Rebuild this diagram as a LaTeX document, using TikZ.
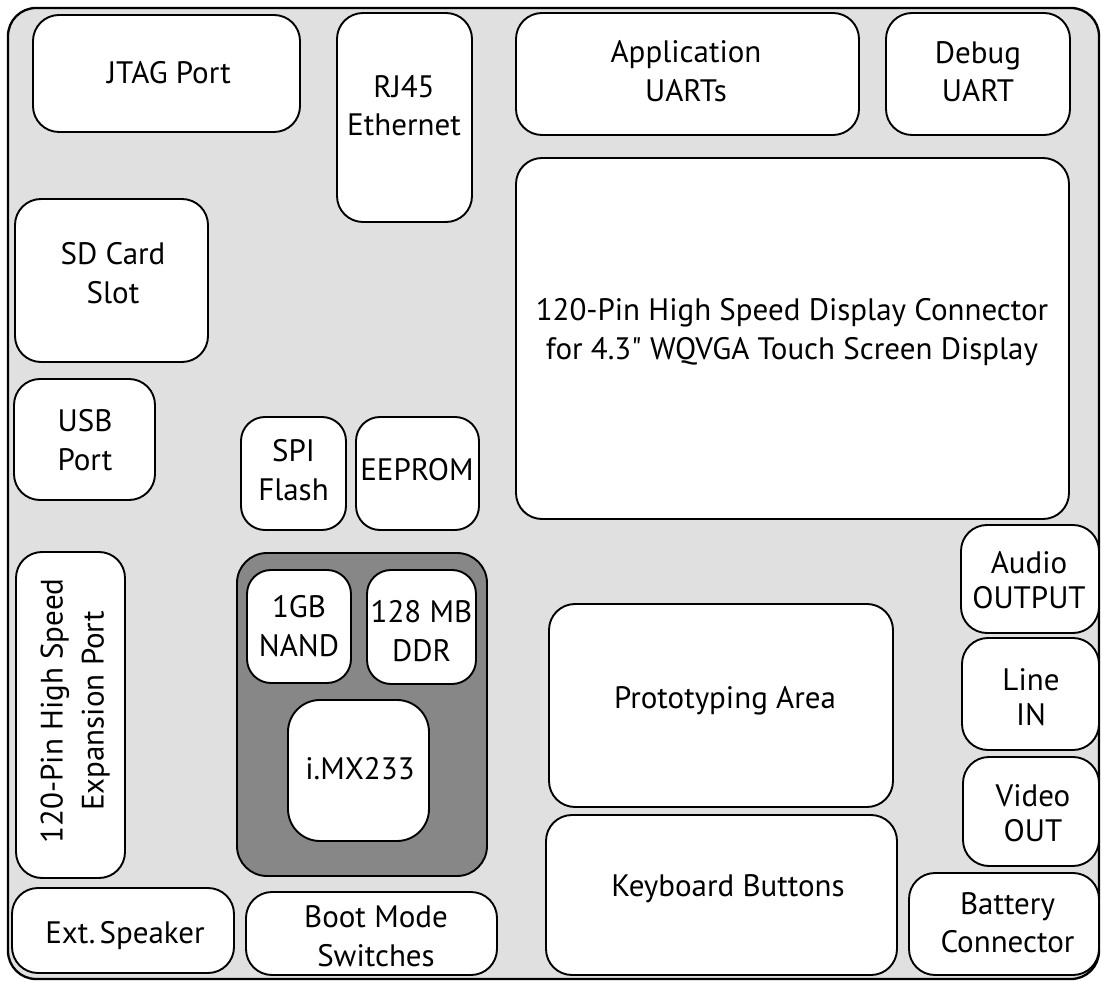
\documentclass[tikz,border=0pt]{standalone}
\usepackage{fontspec}
\setmainfont{PT Sans}
\newfontfamily\rawqfont{PT Sans}[Ligatures=TeXOff]
\definecolor{boardgray}{RGB}{224,224,224}
\definecolor{chipgray}{RGB}{135,135,135}
\newcommand{\rbox}[6][]{%
  \node[box,#1,minimum width={(#5-#3)*1pt},minimum height={(#6-#4)*1pt}] (#2) at ({(#3+#5)/2},{(#4+#6)/2}) {};}
\begin{document}
\begin{tikzpicture}[x=1pt,y=-1pt,
  box/.style={draw=black,line width=1.9pt,fill=white,rounded corners=26pt,inner sep=0pt,outer sep=0pt},
  lbl/.style={align=center,font=\fontsize{31}{38.5}\selectfont,inner sep=0pt,yshift=-3.3pt},
  lbltight/.style={align=center,font=\fontsize{31}{35}\selectfont,inner sep=0pt,yshift=-4pt},
  rlbl/.style={align=center,font=\fontsize{31}{41}\selectfont,inner sep=0pt,rotate=90}]
\useasboundingbox (0,0) rectangle (1101,981);
\rbox[fill=boardgray,line width=2.3pt,rounded corners=28pt]{board}{8}{8}{1099}{979}
% top row
\rbox{jtag}{33}{15}{300}{132}
\node[lbl] (jtagT) at (169,73) {\strut JTAG Port};
\rbox{rj}{337}{13}{472}{222}
\node[lbl] (rjT) at (404,105.5) {\strut RJ45\\\strut Ethernet};
\rbox{app}{516}{13}{859}{135}
\node[lbl] (appT) at (686,71) {\strut Application\\\strut UARTs};
\rbox{dbg}{886}{13}{1070}{135}
\node[lbl] (dbgT) at (978,71.5) {\strut Debug\\\strut UART};
% display
\rbox{disp}{516}{158}{1069}{519}
\node[lbl] (dispT) at (792,329) {\strut 120-Pin High Speed Display Connector\\\strut for 4.3{\rawqfont"} WQVGA Touch Screen Display};
% left column
\rbox{sd}{15}{199}{208}{362}
\node[lbl] (sdT) at (113,273) {\strut SD Card\\\strut Slot};
\rbox{usb}{14}{379}{155}{500}
\node[lbl] (usbT) at (85,440) {\strut USB\\\strut Port};
\rbox[rounded corners=24pt]{spi}{241}{417}{346}{530}
\node[lbl] (spiT) at (293.5,470) {\strut SPI\\\strut Flash};
\rbox[rounded corners=24pt]{eep}{356}{417}{479}{530}
\node[lbl] (eepT) at (417,470) {\strut EEPROM};
\rbox{exp}{16}{552}{125}{878}
\node[rlbl] (expT) at (75,711) {\strut 120-Pin High Speed\\\strut Expansion Port};
% processor module
\rbox[fill=chipgray,rounded corners=30pt]{chip}{237}{553}{487}{876}
\rbox[rounded corners=24pt]{nand}{247}{570}{351}{683}
\node[lbl] (nandT) at (299,626) {\strut 1GB\\\strut NAND};
\rbox[rounded corners=24pt]{ddr}{367}{570}{476}{684}
\node[lbl] (ddrT) at (421.5,631) {\strut 128 MB\\\strut DDR};
\rbox[rounded corners=32pt]{imx}{288}{700}{429}{841}
\node[lbl] (imxT) at (360,768) {\strut i.MX233};
% bottom row
\rbox{ext}{12}{888}{234}{973}
\node[lbl] (extT) at (125,932) {\strut Ext.\kern4pt Speaker};
\rbox{boot}{246}{892}{497}{975}
\node[lbl] (bootT) at (376,936) {\strut Boot Mode\\\strut Switches};
% right area
\rbox{proto}{549}{604}{893}{807}
\node[lbl] (protoT) at (725,697) {\strut Prototyping Area};
\rbox{kbd}{546}{815}{897}{975}
\node[lbl] (kbdT) at (728,885) {\strut Keyboard Buttons};
\rbox{audio}{961}{525}{1099}{633}
\node[lbltight] (audioT) at (1029,579.5) {\strut Audio\\\strut OUTPUT};
\rbox{linein}{962}{638}{1099}{750}
\node[lbltight] (lineinT) at (1031,696.5) {\strut Line\\\strut IN};
\rbox{video}{963}{757}{1099}{866}
\node[lbltight] (videoT) at (1033,812.5) {\strut Video\\\strut OUT};
\rbox{batt}{909}{873}{1099}{975}
\node[lbl] (battT) at (1007.5,922.5) {\strut Battery\\\strut Connector};
\end{tikzpicture}
\end{document}
